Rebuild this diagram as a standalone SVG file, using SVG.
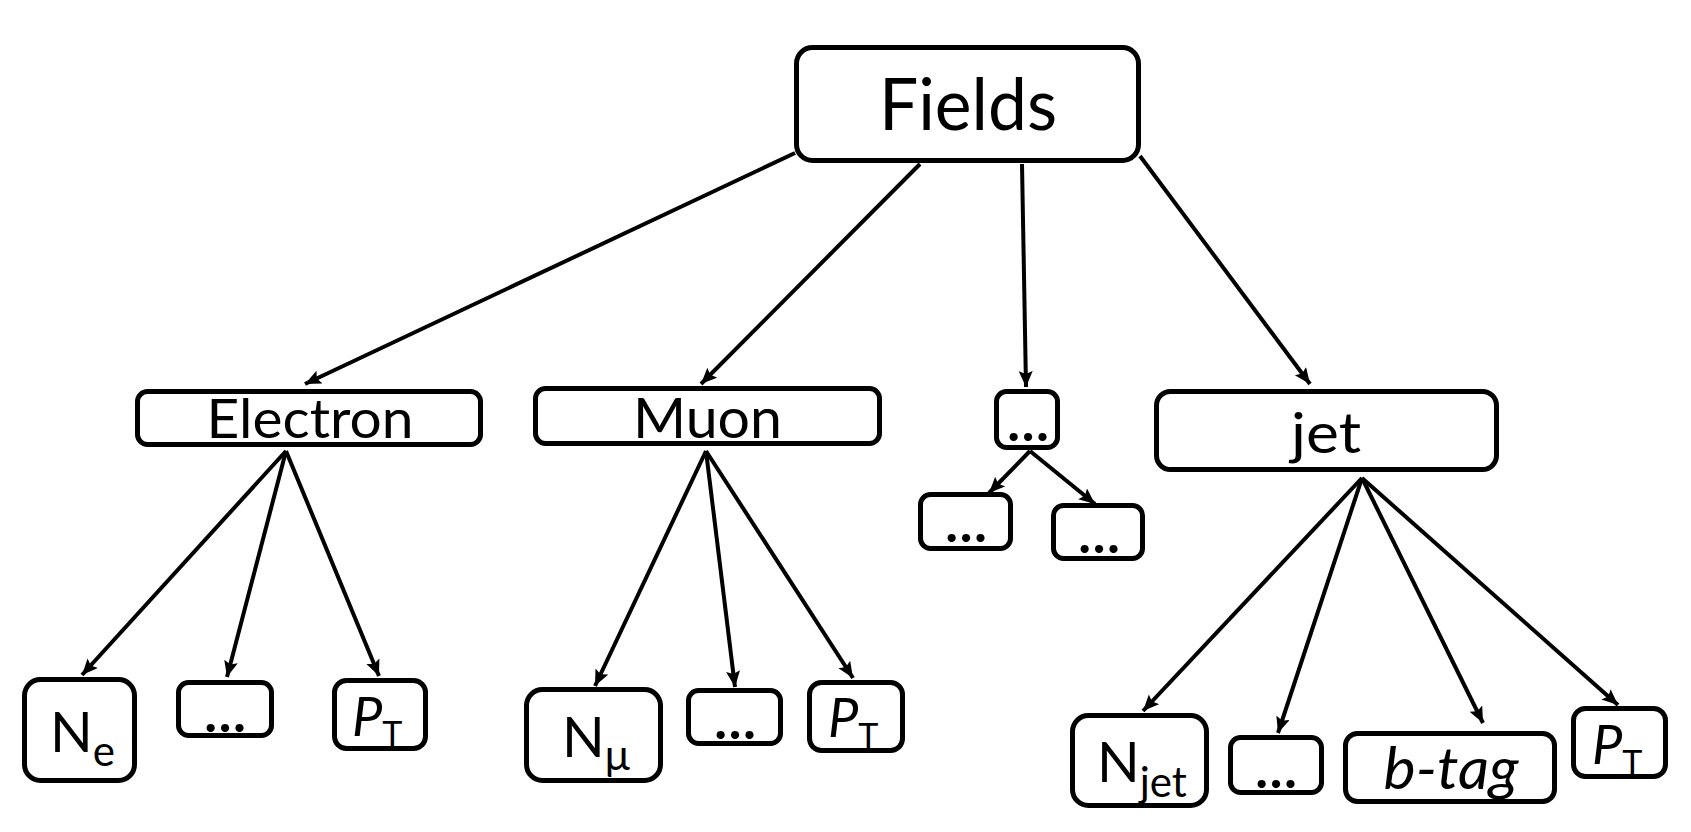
<svg xmlns="http://www.w3.org/2000/svg" width="1691" height="832" viewBox="0 0 1691 832">
<style>
.box{fill:#fff;stroke:#000;stroke-width:5}
.t{font-family:Lato,"Open Sans","Liberation Sans",sans-serif;fill:#000}
.i{font-style:italic}
.d{font-family:Lato,"Open Sans","Liberation Sans",sans-serif;fill:#000;font-size:54px;font-weight:bold;text-anchor:middle}
.c{stroke:#000;stroke-width:4;fill:none;marker-end:url(#ah)}
</style>
<defs>
<marker id="ah" markerUnits="userSpaceOnUse" markerWidth="18" markerHeight="16" refX="16" refY="7" orient="auto">
<path d="M0,0 L16,7 L0,14 L3,7 z" fill="#000"/>
</marker>
</defs>
<rect width="1691" height="832" fill="#fff"/>
<g id="connectors">
<line class="c" x1="795" y1="153" x2="305" y2="384"/>
<line class="c" x1="920" y1="164" x2="701" y2="384"/>
<line class="c" x1="1022" y1="164" x2="1026" y2="387"/>
<line class="c" x1="1140" y1="156" x2="1310" y2="384"/>
<line class="c" x1="286" y1="451" x2="82" y2="675"/>
<line class="c" x1="286" y1="451" x2="227" y2="677"/>
<line class="c" x1="286" y1="451" x2="379" y2="676"/>
<line class="c" x1="706" y1="451" x2="595" y2="686"/>
<line class="c" x1="706" y1="451" x2="735" y2="687"/>
<line class="c" x1="706" y1="451" x2="853" y2="678"/>
<line class="c" x1="1030" y1="451" x2="989" y2="493"/>
<line class="c" x1="1030" y1="451" x2="1095" y2="504"/>
<line class="c" x1="1362" y1="478" x2="1143" y2="711"/>
<line class="c" x1="1362" y1="478" x2="1278" y2="733"/>
<line class="c" x1="1362" y1="478" x2="1483" y2="723"/>
<line class="c" x1="1362" y1="478" x2="1618" y2="705"/>
</g>
<g id="fields"><rect class="box" x="796.5" y="47.5" width="342" height="113" rx="16"/><text class="t" x="968" y="130" font-size="72" text-anchor="middle" textLength="178" lengthAdjust="spacingAndGlyphs">Fields</text></g>
<g id="electron"><rect class="box" x="137.5" y="391.5" width="343" height="53" rx="10"/><text class="t" x="310" y="438" font-size="55" text-anchor="middle" textLength="207" lengthAdjust="spacingAndGlyphs">Electron</text></g>
<g id="muon"><rect class="box" x="535.5" y="388.5" width="344" height="55" rx="10"/><text class="t" x="707.5" y="438" font-size="56" text-anchor="middle" textLength="149" lengthAdjust="spacingAndGlyphs">Muon</text></g>
<g id="other"><rect class="box" x="996.5" y="391.5" width="61" height="56" rx="10"/><text class="d" x="1028" y="441">…</text></g>
<g id="other-a"><rect class="box" x="920.5" y="494.5" width="90" height="54" rx="10"/><text class="d" x="966" y="542">…</text></g>
<g id="other-b"><rect class="box" x="1053.5" y="505.5" width="89" height="53" rx="10"/><text class="d" x="1099" y="553">…</text></g>
<g id="jet"><rect class="box" x="1156.5" y="391.5" width="340" height="78" rx="14"/><text class="t" x="1326" y="453" font-size="56" text-anchor="middle" textLength="70" lengthAdjust="spacingAndGlyphs">jet</text></g>
<g id="n-e"><rect class="box" x="24.5" y="679.5" width="110" height="101" rx="16"/><text class="t" x="50" y="752" font-size="56">N<tspan font-size="42" dy="14">e</tspan></text></g>
<g id="e-other"><rect class="box" x="178.5" y="682.5" width="93" height="53" rx="10"/><text class="d" x="225" y="732">…</text></g>
<g id="e-pt"><rect class="box" x="334.5" y="680.5" width="91" height="68" rx="12"/><text class="t" x="352" y="736" font-size="54"><tspan class="i">P</tspan><tspan font-size="34" dy="10">T</tspan></text></g>
<g id="n-mu"><rect class="box" x="526.5" y="689.5" width="134" height="91" rx="16"/><text class="t" x="562" y="757" font-size="56">N<tspan font-size="42" dy="13">μ</tspan></text></g>
<g id="m-other"><rect class="box" x="688.5" y="690.5" width="92" height="53" rx="10"/><text class="d" x="735" y="739">…</text></g>
<g id="m-pt"><rect class="box" x="809.5" y="682.5" width="93" height="68" rx="12"/><text class="t" x="828" y="737" font-size="54"><tspan class="i">P</tspan><tspan font-size="34" dy="11">T</tspan></text></g>
<g id="n-jet"><rect class="box" x="1072.5" y="715.5" width="134" height="90" rx="16"/><text class="t" x="1097" y="782" font-size="56">N<tspan font-size="42" dy="15">jet</tspan></text></g>
<g id="j-other"><rect class="box" x="1230.5" y="737.5" width="91" height="55" rx="10"/><text class="d" x="1276" y="788">…</text></g>
<g id="b-tag"><rect class="box" x="1345.5" y="733.5" width="209" height="68" rx="12"/><text class="t i" x="1451" y="789" font-size="58" text-anchor="middle" textLength="135" lengthAdjust="spacingAndGlyphs">b-tag</text></g>
<g id="j-pt"><rect class="box" x="1573.5" y="708.5" width="92" height="68" rx="12"/><text class="t" x="1592" y="764" font-size="54"><tspan class="i">P</tspan><tspan font-size="34" dy="11">T</tspan></text></g>
</svg>
